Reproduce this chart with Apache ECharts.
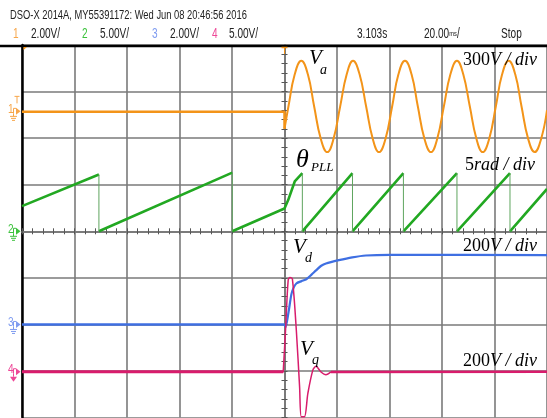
<!DOCTYPE html>
<html>
<head>
<meta charset="utf-8">
<script src="https://cdn.jsdelivr.net/npm/echarts@6/dist/echarts.min.js"></script>
<style>
html, body { margin: 0; padding: 0; background: #fff; }
#chart { width: 547px; height: 418px; }
</style>
</head>
<body>
<div id="chart"></div>
<script>
// time in ms (20 ms/div, trigger at 0), vertical in screen divisions (-4..4)
const timeRange = [-100, 100];
const timeStep = 20;
const divRange = [-4, 4];

// header texts
const headerTitle = 'DSO-X 2014A, MY55391172: Wed Jun 08 20:46:56 2016';
const channelNames = ['1', '2', '3', '4'];
const channelScales = ['2.00V/', '5.00V/', '2.00V/', '5.00V/'];
const timeOffset = '3.103s';
const timeScale = '20.00';
const runState = 'Stop';

// ground level of each channel (divisions)
const groundLevels = [2.575, 0, -2.0, -3.015];

// ch1 - Va
const vaPre = [[-100, 2.565], [0, 2.565], [0, 2.2]];
const vaPost = [
  [0, 2.2], [1.5, 2.68], [3.9, 3.37], [6.4, 3.66], [8.9, 3.37], [11.3, 2.68], [13.8, 1.99],
  [16.3, 1.70], [18.7, 1.99], [21.2, 2.68], [23.7, 3.37], [26.1, 3.66], [28.6, 3.37],
  [31.1, 2.68], [33.6, 1.99], [36.0, 1.70], [38.5, 1.99], [41.0, 2.68], [43.4, 3.37],
  [45.9, 3.66], [48.4, 3.37], [50.8, 2.68], [53.3, 1.99], [55.8, 1.70], [58.2, 1.99],
  [60.7, 2.68], [63.2, 3.37], [65.7, 3.66], [68.1, 3.37], [70.6, 2.68], [73.1, 1.99],
  [75.5, 1.70], [78.0, 1.99], [80.5, 2.68], [82.9, 3.37], [85.4, 3.66], [87.9, 3.37],
  [90.3, 2.68], [92.8, 1.99], [95.3, 1.70], [97.8, 1.99], [100, 2.6]
];

// ch2 - theta PLL (sawtooth ramps, drops drawn separately)
const thetaRamps = [
  [[-100, 0.54], [-70.7, 1.22]],
  [[-70.7, 0], [-19.9, 1.26]],
  [[-19.9, 0], [0, 0.49], [1.4, 0.67], [3.9, 1.07], [6.8, 1.25]],
  [[6.8, 0], [25.9, 1.25]],
  [[25.9, 0], [45.3, 1.25]],
  [[45.3, 0], [65.7, 1.25]],
  [[65.7, 0], [85.9, 1.25]],
  [[85.9, 0], [100, 0.91]]
];
const thetaDropTimes = [-70.7, -19.9, 6.8, 25.9, 45.3, 65.7, 85.9];
const thetaDropTops = [1.22, 1.26, 1.25, 1.25, 1.25, 1.25, 1.25];

// ch3 - Vd
const vdPre = [[-100, -2.0], [0, -2.0]];
const vdPost = [
  [0, -2.0], [0.4, -2.06], [1.5, -1.75], [2.6, -1.36], [3.4, -1.22], [4.5, -1.12],
  [6.5, -1.07], [8.3, -1.03], [10.3, -0.93], [12, -0.84], [14, -0.74], [15.8, -0.69],
  [20.7, -0.62], [25.8, -0.56], [31, -0.52], [40, -0.505], [100, -0.51]
];

// ch4 - Vq
const vqPre = [[-100, -3.015], [-0.5, -3.015]];
const vqTransient = [
  [-0.5, -3.03], [0.4, -2.12], [1.4, -1.05], [2.1, -0.99], [3.0, -1.02], [4.5, -2.12],
  [5.75, -3.34], [6.4, -3.98], [7.6, -3.98], [8.9, -3.48], [10.8, -2.98], [12.0, -2.90],
  [13.9, -3.02], [15.8, -3.08], [17.7, -3.02]
];
const vqTail = [[17.7, -3.02], [100, -3.015]];

const colors = ['#F39419', '#22A822', '#3F6FE2', '#D81C6C'];
const labelColors = ['#F7A64A', '#3CC23C', '#7E9BF0', '#EE4797'];
const gridColor = '#7a7a7a';
const tickColor = '#555';
const hdrFont = '"Liberation Sans", Arial, sans-serif';
const annFont = '"Liberation Serif", "Times New Roman", serif';

function withBreaks(segs) {
  const out = [];
  segs.forEach((seg, i) => {
    if (i) out.push([seg[0][0], '-']);
    seg.forEach(p => out.push(p));
  });
  return out;
}
const thetaDrops = withBreaks(thetaDropTimes.map((t, i) => [[t, thetaDropTops[i]], [t, 0]]));

function line(data, color, width, extra) {
  return Object.assign({
    type: 'line', data: data, showSymbol: false, symbol: 'none', silent: true,
    lineStyle: { color: color, width: width }, connectNulls: false
  }, extra || {});
}

function centerAxis(inside, isY) {
  return {
    type: 'value', min: isY ? divRange[0] : timeRange[0], max: isY ? divRange[1] : timeRange[1],
    interval: isY ? 1 : timeStep,
    axisLine: { show: true, onZero: true, onZeroAxisIndex: 0, lineStyle: { color: gridColor, width: 1.5 } },
    axisTick: { show: true, inside: inside, length: 3, lineStyle: { color: tickColor, width: 1 } },
    minorTick: { show: true, splitNumber: 5, length: 3, lineStyle: { color: tickColor, width: 1 } },
    axisLabel: { show: false }, splitLine: { show: false }
  };
}

const chart = echarts.init(document.getElementById('chart'));
chart.setOption({
  animation: false,
  backgroundColor: '#fff',
  grid: { left: 22, top: 45, width: 532, height: 372.6 },
  xAxis: [
    {
      type: 'value', min: timeRange[0], max: timeRange[1], interval: timeStep,
      axisLine: { show: false }, axisTick: { show: false }, axisLabel: { show: false },
      splitLine: { show: true, lineStyle: { color: gridColor, width: 1.6 } }
    },
    centerAxis(false, false),
    centerAxis(true, false)
  ],
  yAxis: [
    {
      type: 'value', min: divRange[0], max: divRange[1], interval: 1,
      axisLine: { show: true, onZero: false, lineStyle: { color: '#000', width: 2.5 } },
      axisTick: { show: false }, axisLabel: { show: false },
      splitLine: { show: true, lineStyle: { color: gridColor, width: 1.6 } }
    },
    centerAxis(false, true),
    centerAxis(true, true)
  ],
  series: [
    line(vaPre, colors[0], 2.5),
    line(vaPost, colors[0], 2, { smooth: 0.45 }),
    line(withBreaks(thetaRamps), colors[1], 2.6),
    line(thetaDrops, '#5FA55F', 1),
    line(vdPre, colors[2], 2.6),
    line(vdPost, colors[2], 2.2, { smooth: 0.25 }),
    line(vqPre, colors[3], 3),
    line(vqTransient, colors[3], 1.5, { smooth: 0.3 }),
    line(vqTail, colors[3], 2.5)
  ]
});

// ---- overlays: header, channel markers, annotations ----
const g = [];
function txt(x, y, text, font, color, extra) {
  g.push(Object.assign({
    type: 'text', x: x, y: y, silent: true, z: 100,
    style: { text: text, font: font, fill: color, verticalAlign: 'middle', align: 'left' }
  }, extra || {}));
}
function ln(x1, y1, x2, y2, color, w) {
  g.push({ type: 'line', silent: true, z: 100, shape: { x1: x1, y1: y1, x2: x2, y2: y2 },
    style: { stroke: color, lineWidth: w } });
}
function poly(points, color) {
  g.push({ type: 'polygon', silent: true, z: 100, shape: { points: points }, style: { fill: color } });
}

// header (scope font is condensed)
const narrow = { scaleX: 0.78 };
const narrow2 = { scaleX: 0.72 };
txt(10, 16, headerTitle, '12px ' + hdrFont, '#222', narrow);
const nameX = [13, 82, 152, 212];
const scaleX = [31, 100, 170, 229];
channelNames.forEach((n, i) => {
  txt(nameX[i], 34, n, '14px ' + hdrFont, labelColors[i], narrow2);
  txt(scaleX[i], 34, channelScales[i], '14px ' + hdrFont, '#222', narrow2);
});
txt(357, 34, timeOffset, '14px ' + hdrFont, '#222', narrow2);
g.push({
  type: 'text', x: 424, y: 34, silent: true, z: 100, scaleX: 0.72,
  style: {
    text: '{a|' + timeScale + '}{s|ms}{a|/}', verticalAlign: 'middle',
    rich: { a: { font: '14px ' + hdrFont, fill: '#222' }, s: { font: '8px ' + hdrFont, fill: '#222' } }
  }
});
txt(501, 34, runState, '14px ' + hdrFont, '#222', narrow2);

// frame top border
ln(0, 46, 547, 46, '#000', 2.5);

// trigger markers at top
const trig = chart.convertToPixel({ gridIndex: 0 }, [0, divRange[1]]);
ln(trig[0] - 3, 47.5, trig[0] + 3, 47.5, colors[0], 1.5);
ln(trig[0], 47.5, trig[0], 54, colors[0], 1);
poly([[23.5, 47], [27, 47], [23.5, 50]], colors[0]);

// channel ground markers on left edge
groundLevels.forEach((lv, i) => {
  const p = chart.convertToPixel({ gridIndex: 0 }, [timeRange[0], lv]);
  const x = p[0], y = p[1];
  const c = labelColors[i];
  txt(x - 14, y - 2, channelNames[i], '13px ' + hdrFont, c, narrow);
  ln(x - 8.5, y + 2, x - 8.5, y - 3, c, 1);
  ln(x - 8.5, y - 3, x - 6, y - 3, c, 1);
  poly([[x - 6, y - 3.5], [x - 1.5, y], [x - 6, y + 3.5]], c);
  if (i < 3) {
    ln(x - 8.5, y + 2, x - 8.5, y + 5, c, 1);
    ln(x - 12, y + 5, x - 5, y + 5, c, 1);
    ln(x - 11, y + 7, x - 6, y + 7, c, 1);
    ln(x - 10, y + 9, x - 7, y + 9, c, 1);
  } else {
    ln(x - 8.5, y + 2, x - 8.5, y + 5, c, 1);
    poly([[x - 12, y + 5], [x - 5, y + 5], [x - 8.5, y + 10]], c);
  }
  if (i === 0) {
    ln(x - 7.5, y - 15, x - 2.5, y - 15, c, 1);
    ln(x - 5, y - 15, x - 5, y - 8, c, 1);
  }
});

// annotations
const it = 'italic ';
txt(309, 58.5, 'V', it + '21px ' + annFont, '#000');
txt(320, 70, 'a', it + '14px ' + annFont, '#000');
txt(296, 160, 'θ', it + '26px ' + annFont, '#000');
txt(311, 168, 'PLL', it + '13px ' + annFont, '#000');
txt(293, 247.5, 'V', it + '21px ' + annFont, '#000');
txt(305, 258, 'd', it + '14px ' + annFont, '#000');
txt(300, 349, 'V', it + '21px ' + annFont, '#000');
txt(312, 360, 'q', it + '14px ' + annFont, '#000');

function scaleLabel(x, y, num, unit) {
  g.push({
    type: 'text', x: x, y: y, silent: true, z: 100,
    style: {
      text: '{n|' + num + '}{u|' + unit + '}', verticalAlign: 'middle',
      rich: {
        n: { font: '18px ' + annFont, fill: '#000' },
        u: { font: 'italic 18px ' + annFont, fill: '#000' }
      }
    }
  });
}
scaleLabel(463, 60, '300', 'V / div');
scaleLabel(465, 165, '5', 'rad / div');
scaleLabel(463, 246, '200', 'V / div');
scaleLabel(463, 361, '200', 'V / div');

chart.setOption({ graphic: g });
</script>
</body>
</html>
